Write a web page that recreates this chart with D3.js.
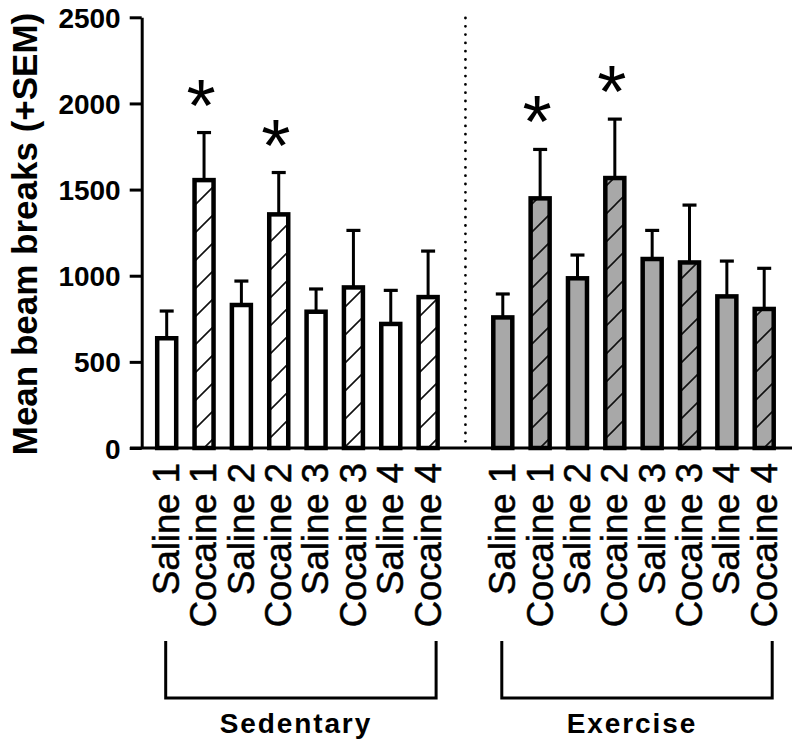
<!DOCTYPE html>
<html><head><meta charset="utf-8">
<script src="https://cdn.jsdelivr.net/npm/d3@7"></script>
<style>body{margin:0;background:#fff}svg{display:block}</style>
</head><body>
<svg id="chart" width="800" height="753"></svg>
<script>
// ---- data ----
const categories = ["Saline 1","Cocaine 1","Saline 2","Cocaine 2","Saline 3","Cocaine 3","Saline 4","Cocaine 4"];
const groups = ["Sedentary","Exercise"];
const sedentaryMeans = [637, 1555, 830, 1356, 791, 932, 720, 876];
const sedentarySEM   = [158, 276, 139, 243, 132, 331, 195, 267];
const exerciseMeans  = [758, 1449, 985, 1567, 1097, 1077, 880, 807];
const exerciseSEM    = [136, 284, 135, 342, 166, 333, 205, 236];
const significant = [["Cocaine 1","Cocaine 2"], ["Cocaine 1","Cocaine 2"]];
const yTicks = [0, 500, 1000, 1500, 2000, 2500];
const yLabel = "Mean beam breaks (+SEM)";

const FONT = "'Liberation Sans', Arial, Helvetica, sans-serif";
const svg = d3.select("#chart");

const rows = [];
groups.forEach((g, gi) => {
  const means = gi === 0 ? sedentaryMeans : exerciseMeans;
  const sems = gi === 0 ? sedentarySEM : exerciseSEM;
  categories.forEach((c, ci) => {
    rows.push({group: g, gi, cat: c, key: g + "|" + c, mean: means[ci], sem: sems[ci],
      hatched: c.startsWith("Cocaine"), star: significant[gi].includes(c)});
  });
});
const slots = [...rows.filter(r => r.gi === 0).map(r => r.key), "gap", ...rows.filter(r => r.gi === 1).map(r => r.key)];

const x = d3.scalePoint().domain(slots).range([166.7, 764.2]);
const y = d3.scaleLinear().domain([0, 2500]).range([448, 17.3]);

// hatch pattern
const defs = svg.append("defs");
const pat = defs.append("pattern").attr("id", "hatch").attr("patternUnits", "userSpaceOnUse")
  .attr("width", 28).attr("height", 28).attr("x", 0).attr("y", 8);
pat.append("path").attr("d", "M-7,7 L7,-7 M0,28 L28,0 M21,35 L35,21")
  .attr("stroke", "#111").attr("stroke-width", 1.6).attr("fill", "none");

const barW = 19;
const bars = svg.append("g");
rows.forEach(r => {
  const cx = x(r.key), top = y(r.mean), h = y(0) - top;
  bars.append("rect").attr("x", cx - barW/2).attr("y", top).attr("width", barW).attr("height", h)
    .attr("fill", r.gi === 0 ? "#ffffff" : "#a8a8a8");
  if (r.hatched) bars.append("rect").attr("x", cx - barW/2).attr("y", top).attr("width", barW).attr("height", h)
    .attr("fill", "url(#hatch)");
  // error bar
  const et = y(r.mean + r.sem);
  bars.append("line").attr("x1", cx).attr("x2", cx).attr("y1", top).attr("y2", et)
    .attr("stroke", "#000").attr("stroke-width", 3);
  bars.append("line").attr("x1", cx - 7).attr("x2", cx + 7).attr("y1", et).attr("y2", et)
    .attr("stroke", "#000").attr("stroke-width", 3.2);
  bars.append("rect").attr("x", cx - barW/2).attr("y", top).attr("width", barW).attr("height", h)
    .attr("fill", "none").attr("stroke", "#000").attr("stroke-width", 4.5);
  if (r.star) {
    svg.append("text").attr("x", cx - 3).attr("y", et - 2).attr("text-anchor", "middle")
      .attr("font-family", FONT).attr("font-size", 75).attr("fill", "#000").text("*");
  }
});

// y axis
const yAxis = d3.axisLeft(y).tickValues(yTicks).tickFormat(d3.format("d"))
  .tickSize(12).tickSizeOuter(0).tickPadding(9);
const ga = svg.append("g").attr("transform", "translate(141.7,0)").call(yAxis);
ga.select(".domain").attr("stroke-width", 3).attr("stroke", "#000");
ga.selectAll(".tick line").attr("stroke-width", 3).attr("stroke", "#000");
ga.selectAll(".tick text").attr("font-family", FONT).attr("font-size", 28).attr("font-weight", "bold")
  .attr("fill", "#000").attr("dy", "0.36em");

// baseline
svg.append("line").attr("x1", 130).attr("x2", 792).attr("y1", y(0)).attr("y2", y(0))
  .attr("stroke", "#000").attr("stroke-width", 3);

// dotted separator
svg.append("line").attr("x1", x("gap")).attr("x2", x("gap")).attr("y1", 18).attr("y2", y(0) - 2)
  .attr("stroke", "#000").attr("stroke-width", 2.8).attr("stroke-linecap", "round")
  .attr("stroke-dasharray", "0,8.3");

// y label
svg.append("text").attr("transform", `translate(37,234) rotate(-90)`).attr("text-anchor", "middle")
  .attr("font-family", FONT).attr("font-size", 35).attr("font-weight", "bold").attr("fill", "#000")
  .text(yLabel);

// category labels
rows.forEach(r => {
  svg.append("text").attr("transform", `translate(${x(r.key)},463) rotate(-90)`)
    .attr("text-anchor", "end").attr("dy", "0.34em")
    .attr("font-family", FONT).attr("font-size", 36.5).attr("fill", "#000")
    .attr("stroke", "#000").attr("stroke-width", 0.5).text(r.cat);
});

// group brackets
groups.forEach((g, gi) => {
  const keys = rows.filter(r => r.gi === gi).map(r => r.key);
  const x1 = x(keys[0]) - 1, x2 = x(keys[keys.length - 1]) + 8;
  svg.append("path").attr("d", `M${x1},641 V698 H${x2} V641`).attr("fill", "none")
    .attr("stroke", "#000").attr("stroke-width", 3);
  svg.append("text").attr("x", (x1 + x2) / 2 - 5).attr("y", 733).attr("text-anchor", "middle")
    .attr("font-family", FONT).attr("font-size", 28).attr("font-weight", "bold")
    .attr("letter-spacing", "1.9px").attr("fill", "#000").text(g);
});
</script>
</body></html>
